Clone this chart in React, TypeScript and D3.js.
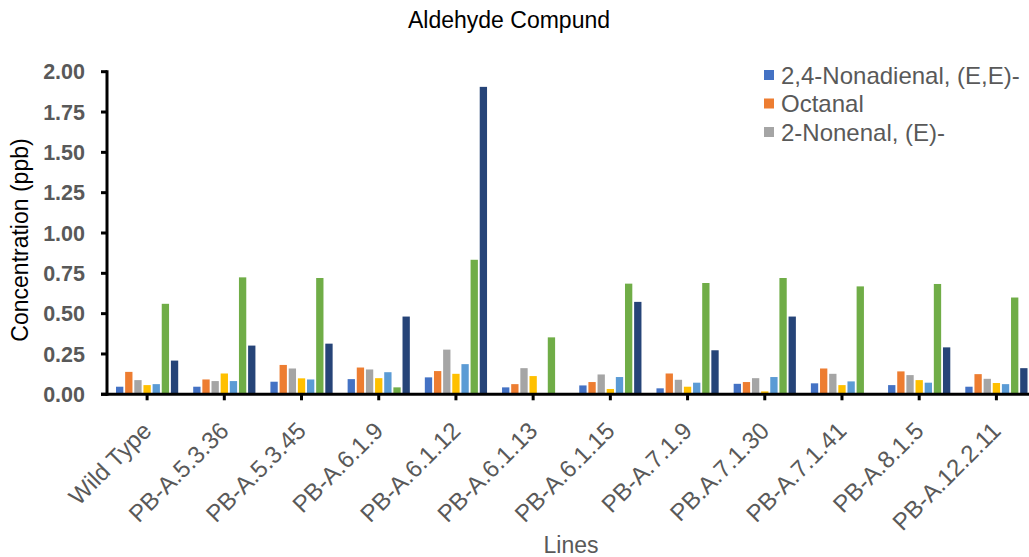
import React from 'react';
import * as d3 from 'd3';

// categories (lines)
const lines = [
  'Wild Type', 'PB-A.5.3.36', 'PB-A.5.3.45', 'PB-A.6.1.9', 'PB-A.6.1.12', 'PB-A.6.1.13',
  'PB-A.6.1.15', 'PB-A.7.1.9', 'PB.A.7.1.30', 'PB-A.7.1.41', 'PB-A.8.1.5', 'PB-A.12.2.11',
];

// series, in drawing order; only the first three make it into the visible legend
const seriesNames = ['2,4-Nonadienal, (E,E)-', 'Octanal', '2-Nonenal, (E)-', 'Series 4', 'Series 5', 'Series 6', 'Series 7'];
const legendNames = ['2,4-Nonadienal, (E,E)-', 'Octanal', '2-Nonenal, (E)-'];

const s1 = [0.047, 0.047, 0.078, 0.094, 0.105, 0.043, 0.055, 0.037, 0.065, 0.068, 0.057, 0.047];
const s2 = [0.139, 0.092, 0.182, 0.166, 0.144, 0.063, 0.076, 0.129, 0.076, 0.160, 0.142, 0.125];
const s3 = [0.088, 0.082, 0.160, 0.154, 0.277, 0.162, 0.123, 0.090, 0.100, 0.127, 0.119, 0.096];
const s4 = [0.057, 0.129, 0.099, 0.100, 0.127, 0.113, 0.033, 0.047, 0.018, 0.057, 0.088, 0.070];
const s5 = [0.063, 0.082, 0.092, 0.137, 0.187, 0, 0.107, 0.072, 0.107, 0.080, 0.072, 0.063];
const s6 = [0.561, 0.725, 0.721, 0.043, 0.834, 0.353, 0.686, 0.690, 0.721, 0.669, 0.684, 0.600];
const s7 = [0.209, 0.302, 0.314, 0.482, 1.906, 0, 0.573, 0.273, 0.482, 0, 0.291, 0.162];
const seriesValues = [s1, s2, s3, s4, s5, s6, s7];

const colors = ['#4472C4', '#ED7D31', '#A5A5A5', '#FFC000', '#5B9BD5', '#70AD47', '#264478'];
const yTicks = [0, 0.25, 0.5, 0.75, 1, 1.25, 1.5, 1.75, 2];

const W = 1029;
const H = 557;
const font = '"Liberation Sans", Arial, sans-serif';
const textGray = '#595959';

export default function App() {
  const left = 107;
  const right = 1035;
  const top = 71.7;
  const bottom = 394.3;

  const x = d3.scaleBand<string>().domain(lines).range([left + 1.5, right]).paddingInner(0).paddingOuter(0);
  const inner = d3.scaleBand<number>()
    .domain(d3.range(seriesNames.length))
    .range([7.5, x.bandwidth() - 7.5])
    .paddingInner(0.2);
  const y = d3.scaleLinear().domain([0, 2]).range([bottom, top]);

  return (
    <svg width={W} height={H} style={{ display: 'block', position: 'absolute', left: 0, top: 0 }}
      fontFamily={font}>
      <rect width={W} height={H} fill="#fff" />
      <text x={509} y={28} textAnchor="middle" fontSize={23} fill="#000">Aldehyde Compund</text>

      {/* bars */}
      {seriesValues.map((vals, si) => (
        <g key={si} fill={colors[si]}>
          {vals.map((v, ci) => v > 0 ? (
            <rect key={ci}
              x={(x(lines[ci]) ?? 0) + (inner(si) ?? 0)}
              y={y(v)}
              width={inner.bandwidth()}
              height={bottom - y(v)} />
          ) : null)}
        </g>
      ))}

      {/* y axis */}
      <line x1={left} x2={left} y1={top - 1.5} y2={bottom + 1.5} stroke="#000" strokeWidth={3} />
      {yTicks.map(t => (
        <g key={t}>
          <line x1={left - 6} x2={left} y1={y(t)} y2={y(t)} stroke="#000" strokeWidth={3} />
          <text x={85} y={y(t)} dy="0.36em" textAnchor="end" fontSize={21.5} fontWeight="bold" fill={textGray}>
            {t.toFixed(2)}
          </text>
        </g>
      ))}
      <text transform={`translate(28, ${(top + bottom) / 2 + 7}) rotate(-90)`} textAnchor="middle"
        fontSize={23} fill="#000">Concentration (ppb)</text>

      {/* x axis */}
      <line x1={left - 6} x2={W} y1={bottom} y2={bottom} stroke="#000" strokeWidth={3} />
      {lines.map(c => {
        const cx = (x(c) ?? 0) + x.bandwidth() / 2;
        return (
          <g key={c}>
            <line x1={cx} x2={cx} y1={bottom} y2={bottom + 6} stroke="#000" strokeWidth={3} />
            <text transform={`translate(${cx - 6}, ${bottom + 26}) rotate(-45)`} textAnchor="end"
              dy="0.7em" fontSize={24} fill={textGray}>{c}</text>
          </g>
        );
      })}
      <text x={571} y={553} textAnchor="middle" fontSize={23} fill={textGray}>Lines</text>

      {/* legend */}
      {legendNames.map((n, i) => (
        <g key={n} transform={`translate(764, ${75 + i * 28.5})`}>
          <rect x={0} y={-5} width={10} height={10} fill={colors[i]} />
          <text x={17} y={0} dy="0.36em" fontSize={24} fill={textGray}>{n}</text>
        </g>
      ))}
    </svg>
  );
}
